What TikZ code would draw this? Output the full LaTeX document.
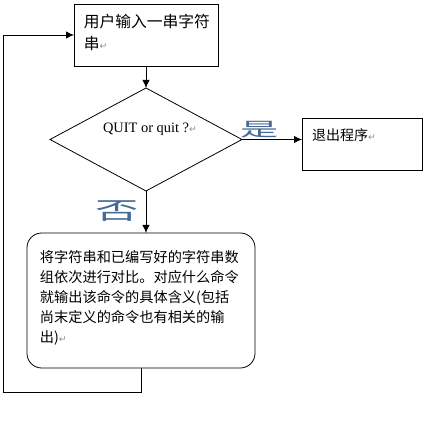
\documentclass[tikz,border=0pt]{standalone}
\usepackage{fontspec}
\setmainfont{Liberation Serif}
\newfontfamily\cjk{Noto Sans CJK SC}
\newfontfamily\symb{DejaVu Sans}
\usetikzlibrary{shapes.geometric,arrows.meta,positioning}
\definecolor{azulsi}{RGB}{70,105,150}
\tikzstyle{caja}=[draw, line width=0.6pt, inner xsep=7.5pt, inner ysep=0pt,
  outer sep=0pt, align=left]
\tikzstyle{rombo}=[draw, diamond, line width=0.6pt, aspect=1.86, inner sep=0pt,
  outer sep=0pt, minimum width=144pt, minimum height=77.25pt]
\tikzstyle{redondo}=[caja, rounded corners=11pt, inner xsep=9.75pt]
\tikzstyle{respuesta}=[text=azulsi, inner sep=0pt]
\tikzstyle{line}=[draw, line width=0.6pt, color=black,
  -{Latex[length=6pt,width=5.5pt]}]
\newcommand{\marca}{{\symb\color{black!45}\fontsize{7pt}{7pt}\selectfont ↵}}

\begin{document}
\begin{tikzpicture}[x=0.75pt,y=-0.75pt]
  \useasboundingbox (0,0) rectangle (447,423);

  % Draw diagram elements
  \path (146,35) node (pInput) [caja, minimum width=108pt, text width=93pt,
    text height=18pt, text depth=28.5pt,
    font=\cjk\fontsize{11.8pt}{16.5pt}\selectfont]
    {用户输入一串字符\\串\marca};
  \path (pInput.south)+(0,22) node (pQuit) [rombo, anchor=north] {};
  \path (pQuit.center)+(4,-10) node (tQuit)
    [font=\fontsize{10.8pt}{12pt}\selectfont] {QUIT or quit ?\marca};
  \path (pQuit.east)+(60,5) node (pExit) [caja, anchor=west, minimum width=90pt,
    text width=75pt, text height=16.5pt, text depth=22.5pt,
    font=\cjk\fontsize{10.5pt}{13pt}\selectfont] {退出程序\marca};
  \path (pQuit.south)+(-5,42) node (pCompara) [redondo, anchor=north,
    minimum width=171pt, text width=151.5pt, text height=22.5pt, text depth=78.75pt,
    font=\cjk\fontsize{10.65pt}{15pt}\selectfont]
    {将字符串和已编写好的字符串数\\组依次进行对比。对应什么命令\\
     就输出该命令的具体含义(包括\\尚末定义的命令也有相关的输\\出)\marca};

  % Answer labels
  \path (pQuit.east)+(18,-10) node (lSi) [respuesta,
    font=\cjk\fontsize{14.3pt}{15pt}\selectfont] {\scalebox{2.0}[1]{是}};
  \path (pQuit.south)+(-29,20) node (lNo) [respuesta,
    font=\cjk\fontsize{18pt}{19pt}\selectfont] {\scalebox{1.8}[1]{否}};

  % Draw arrows between elements
  \coordinate (cLoop) at (3,392);
  \path [line] (pInput.south) -- (pQuit.north);
  \path [line] (pQuit.east) -- (pQuit.east -| pExit.west);
  \path [line] (pQuit.south) -- (pQuit.south |- pCompara.north);
  \path [line] (pCompara.south) |- (cLoop) |- (pInput.west);
\end{tikzpicture}
\end{document}
